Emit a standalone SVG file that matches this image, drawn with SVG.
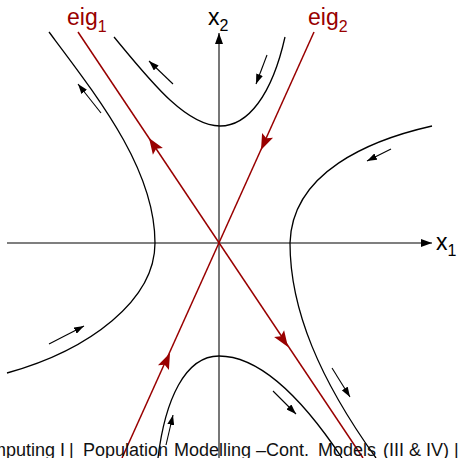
<svg xmlns="http://www.w3.org/2000/svg" xmlns:xlink="http://www.w3.org/1999/xlink" width="458" height="458" viewBox="0 0 458 458">
<style>
.axis{stroke:#555;stroke-width:1.6;fill:none}
.eig{stroke:#990000;stroke-width:1.5;fill:none}
.traj{stroke:#000;stroke-width:1.3;fill:none}
.flow{stroke:#000;stroke-width:1.1;fill:none;marker-end:url(#ah)}
.lbl{font-family:"Liberation Sans",Arial,sans-serif;font-size:23px}
.red{fill:#990000}
.foot{font-family:"Liberation Sans",Arial,sans-serif;font-size:18px;fill:#111}
</style>
<defs>
<marker id="ah" markerUnits="userSpaceOnUse" markerWidth="10" markerHeight="7" refX="10" refY="3.5" orient="auto">
<path d="M0,0 L10,3.5 L0,7 z" fill="#000"/>
</marker>
<marker id="axh" markerUnits="userSpaceOnUse" markerWidth="11" markerHeight="8" refX="11" refY="4" orient="auto">
<path d="M0,0 L11,4 L0,8 z" fill="#000"/>
</marker>
<path id="ra" d="M0,0 L-16,-6 L-13,0 L-16,6 z" fill="#990000"/>
</defs>
<rect width="458" height="458" fill="#fff"/>
<g id="axes">
<path class="axis" d="M7,243 H432" marker-end="url(#axh)"/>
<path class="axis" d="M219,458 V33" marker-end="url(#axh)"/>
</g>
<g id="connectors">
<g id="trajectories">
<path class="traj" d="M114,37 C148,78 185,126 220,126 C248,126 272,95 285,37"/>
<path class="traj" d="M49,32 C100,100 155,170 155,243 C155,300 90,350 7,373"/>
<path class="traj" d="M432,126 C370,140 292,172 290,243 C290,310 320,380 376,458"/>
<path class="traj" d="M158,458 C165,400 185,356 219,356 C265,356 310,410 342,458"/>
</g>
<g id="eigenvectors">
<path class="eig" d="M78,32 L363,458"/>
<path class="eig" d="M314,32 L122,458"/>
<use xlink:href="#ra" transform="translate(149,138) rotate(-123.75)"/>
<use xlink:href="#ra" transform="translate(288,347) rotate(56.25)"/>
<use xlink:href="#ra" transform="translate(261,150) rotate(114.2)"/>
<use xlink:href="#ra" transform="translate(170,353) rotate(-65.8)"/>
</g>
<g id="flow-arrows">
<path class="flow" d="M173,84 L149,61"/>
<path class="flow" d="M267,55 L256,84"/>
<path class="flow" d="M101,113 L78,84"/>
<path class="flow" d="M391,149 L367,161"/>
<path class="flow" d="M49,344 L84,326"/>
<path class="flow" d="M332,368 L350,397"/>
<path class="flow" d="M273,391 L296,414"/>
<path class="flow" d="M166,445 L173,415"/>
</g>
</g>
<g id="label-eig1"><text class="lbl red" x="67" y="25">eig<tspan font-size="16" dy="7">1</tspan></text></g>
<g id="label-eig2"><text class="lbl red" x="308" y="25">eig<tspan font-size="16" dy="7">2</tspan></text></g>
<g id="label-x2"><text class="lbl" x="208" y="25">x<tspan font-size="16" dy="6">2</tspan></text></g>
<g id="label-x1"><text class="lbl" x="436" y="250">x<tspan font-size="16" dy="6">1</tspan></text></g>
<g id="footer"><text class="foot" y="456"><tspan x="-9">mputing I</tspan><tspan x="69">|</tspan><tspan x="83">Population</tspan><tspan x="174">Modelling</tspan><tspan x="256">–Cont.</tspan><tspan x="318">Models</tspan><tspan x="383">(III &amp; IV)</tspan><tspan x="454">|</tspan></text></g>
</svg>
